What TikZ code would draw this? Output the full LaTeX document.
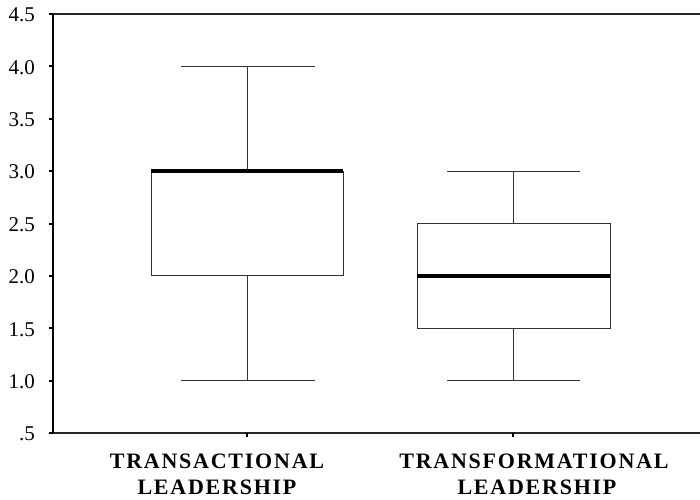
\documentclass[tikz,border=0pt]{standalone}
\usepackage{fontspec}
\setmainfont{Liberation Serif}
\newfontfamily\lblfont[LetterSpace=8]{Liberation Serif}
\begin{document}
\begin{tikzpicture}[x=1pt,y=-1pt,
  axisline/.style={line width=1.4pt,black},
  frameline/.style={line width=1.1pt,black!85},
  boxline/.style={line width=1pt,black!80},
  medline/.style={line width=3.4pt,black},
  tickmark/.style={line width=2pt,black},
  ticklbl/.style={anchor=east,inner sep=0pt,font=\fontsize{21}{21}\selectfont},
  catlbl/.style={inner sep=0pt,font=\lblfont\bfseries\fontsize{22}{22}\selectfont}]
\useasboundingbox (0,0) rectangle (700,499);
% value -> y : 14 + (4.5-v)*104.75
\coordinate (tl) at (53,14);
\coordinate (bl) at (53,433);
\coordinate (tr) at (700,14);
\coordinate (br) at (700,433);
\draw[frameline] (tl) -- (tr);
\draw[frameline] (bl) -- (br);
\draw[axisline] (tl) -- (bl);
% y ticks and labels
\foreach \v/\t in {4.5/4.5,4.0/4.0,3.5/3.5,3.0/3.0,2.5/2.5,2.0/2.0,1.5/1.5,1.0/1.0,0.5/.5}{
  \coordinate (yt) at (53,{14+(4.5-\v)*104.75});
  \draw[tickmark] (yt) -- ++(-4,0);
  \node[ticklbl] at ([xshift=-18pt,yshift=-1pt]yt) {\t};
}
% x ticks
\coordinate (xa) at (247,433);
\coordinate (xb) at (513,433);
\draw[tickmark] (xa) -- ++(0,4);
\draw[tickmark] (xb) -- ++(0,4);
% box 1 : transactional
\coordinate (a1) at (247,{14+(4.5-4.0)*104.75});
\coordinate (a0) at (247,{14+(4.5-1.0)*104.75});
\coordinate (aq3) at (247,{14+(4.5-3.0)*104.75});
\coordinate (aq1) at (247,{14+(4.5-2.0)*104.75});
\draw[boxline] (a1) -- (aq3);
\draw[boxline] (aq1) -- (a0);
\draw[boxline] ([xshift=-66pt]a1) -- ([xshift=68pt]a1);
\draw[boxline] ([xshift=-66pt]a0) -- ([xshift=68pt]a0);
\draw[boxline] ([xshift=-96pt]aq3) rectangle ([xshift=96pt]aq1);
\draw[medline] ([xshift=-96pt]aq3) -- ([xshift=96pt]aq3);
% box 2 : transformational
\coordinate (b1) at (513,{14+(4.5-3.0)*104.75});
\coordinate (b0) at (513,{14+(4.5-1.0)*104.75});
\coordinate (bq3) at (513,{14+(4.5-2.5)*104.75});
\coordinate (bq1) at (513,{14+(4.5-1.5)*104.75});
\coordinate (bmed) at (513,{14+(4.5-2.0)*104.75});
\draw[boxline] (b1) -- (bq3);
\draw[boxline] (bq1) -- (b0);
\draw[boxline] ([xshift=-66pt]b1) -- ([xshift=67pt]b1);
\draw[boxline] ([xshift=-66pt]b0) -- ([xshift=67pt]b0);
\draw[boxline] ([xshift=-96pt]bq3) rectangle ([xshift=97pt]bq1);
\draw[medline] ([xshift=-96pt]bmed) -- ([xshift=97pt]bmed);
% category labels
\node[catlbl] (la1) at (217,461) {TRANSACTIONAL};
\node[catlbl] (la2) at (217,487) {LEADERSHIP};
\node[catlbl] (lb1) at (534,461) {TRANSFORMATIONAL};
\node[catlbl] (lb2) at (537,487) {LEADERSHIP};
\end{tikzpicture}
\end{document}
